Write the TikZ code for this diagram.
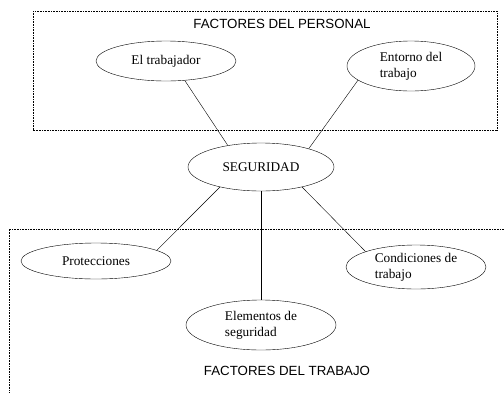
\documentclass[tikz,border=0pt]{standalone}
\usepackage{fontspec}
\setmainfont{Liberation Serif}
\newfontfamily\boxfont{Liberation Sans}
\usetikzlibrary{shapes.geometric}

\begin{document}
\begin{tikzpicture}[x=1pt,y=-1pt,
        factor/.style={ellipse,draw=black,thin,inner sep=0pt,align=left,font=\fontsize{13.3}{16}\selectfont},
        grupo/.style={draw=black,line width=0.6pt,dash pattern=on 0.8pt off 0.8pt},
        rotulo/.style={font=\boxfont\fontsize{13.3}{16}\selectfont}]
    \useasboundingbox (0,0) rectangle (504,392);

    % cuadros de grupos
    \draw[grupo] (33,11) rectangle (497,130);
    \draw[grupo] (9,402) -- (9,229) -- (514,229);
    \node[rotulo] (personal) at (282,24) {FACTORES DEL PERSONAL};
    \node[rotulo] (trabajo) at (287,371) {FACTORES DEL TRABAJO};

    % factores
    \node[factor,minimum width=140,minimum height=40] (trab) at (166,61) {El trabajador};
    \node[factor,minimum width=128,minimum height=50] (ent) at (411,66) {Entorno del\\trabajo};
    \node[factor,minimum width=146,minimum height=48] (seg) at (261,167) {SEGURIDAD};
    \node[factor,minimum width=150,minimum height=36] (prot) at (96,261) {Protecciones};
    \node[factor,minimum width=140,minimum height=44] (cond) at (416,267) {Condiciones de\\trabajo};
    \node[factor,minimum width=150,minimum height=50] (elem) at (261,325) {Elementos de\\seguridad};

    \draw (trab.-46) -- (seg.147);
    \draw (ent.195) -- (seg.21);
    \draw (seg.206) -- (prot.10);
    \draw (seg.334) -- (cond.163);
    \draw (seg.south) -- (elem.north);
\end{tikzpicture}
\end{document}
